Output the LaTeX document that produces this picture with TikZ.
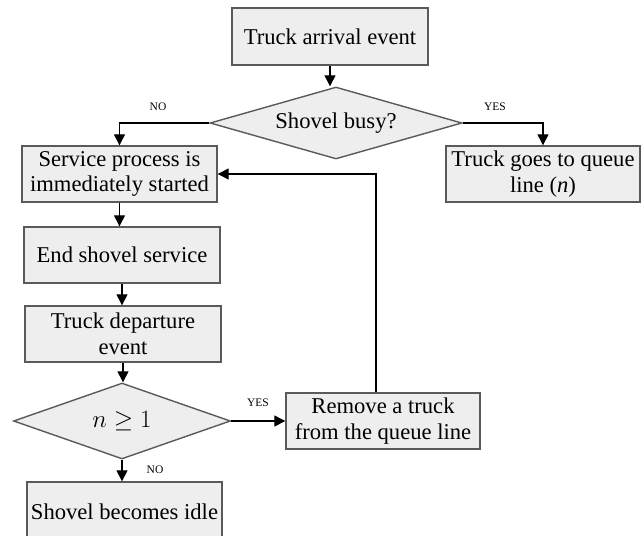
\documentclass[tikz,border=0pt]{standalone}
\usepackage{fontspec}
\setmainfont{Liberation Serif}
\usetikzlibrary{shapes.geometric,arrows.meta,calc}
\definecolor{boxfill}{HTML}{EEEEEE}
\definecolor{boxline}{HTML}{5A5A5A}
\begin{document}
\begin{tikzpicture}[x=1pt,y=-1pt,
  procbox/.style={draw=boxline,line width=1.4pt,fill=boxfill,rectangle,inner sep=0pt,
    align=center,font=\fontsize{22.6}{25.5}\selectfont},
  decbox/.style={draw=boxline,line width=1.4pt,fill=boxfill,diamond,inner sep=0pt,
    align=center,font=\fontsize{22.6}{25.5}\selectfont},
  conn/.style={draw=black,line width=1.3pt,-{Triangle[length=11pt,width=11pt]}},
  lab/.style={font=\fontsize{11.5}{13}\selectfont,inner sep=0pt}]
\useasboundingbox (0,0) rectangle (644,535);
\node[procbox,minimum width=196pt,minimum height=57pt] (arr) at (330,36.5) {Truck arrival event};
\node[decbox,minimum width=252pt,minimum height=72pt,aspect=3.5] (busy) at (336,123) {Shovel busy?};
\node[procbox,minimum width=195pt,minimum height=56pt] (serv) at (119.5,174) {Service process is\\immediately started};
\node[procbox,minimum width=194pt,minimum height=56pt] (queue) at (543,174) {Truck goes to queue\\line (\textit{n})};
\node[procbox,minimum width=196pt,minimum height=56pt] (endsv) at (122,255) {End shovel service};
\node[procbox,minimum width=196pt,minimum height=56pt] (dep) at (123,334) {Truck departure\\event};
\node[decbox,minimum width=217pt,minimum height=76pt,aspect=2.85,font=\fontsize{26}{28}\selectfont] (ncond) at (122,421) {$n \geq 1$};
\node[procbox,minimum width=194pt,minimum height=56pt] (remove) at (383,421) {Remove a truck\\from the queue line};
\node[procbox,minimum width=195pt,minimum height=60pt] (idle) at (124.5,512) {Shovel becomes idle};

\node[lab] (lno1) at (158,107) {NO};
\node[lab] (lyes1) at (495,107) {YES};
\node[lab] (lyes2) at (258,403) {YES};
\node[lab] (lno2) at (155,470) {NO};

\draw[conn] (arr.south) -- (arr.south |- busy.north);
\draw[conn] (busy.west) -| (serv.north);
\draw[conn] (busy.east) -| (queue.north);
\draw[conn] (serv.south) -- (serv.south |- endsv.north);
\draw[conn] (endsv.south) -- (endsv.south |- dep.north);
\draw[conn] (dep.south) -- (dep.south |- ncond.north);
\draw[conn] (ncond.south) -- (ncond.south |- idle.north);
\draw[conn] (ncond.east) -- (remove.west);
\coordinate (loopbot) at ($(remove.north)+(-7,0)$);
\draw[conn] (loopbot) |- (serv.east);
\end{tikzpicture}
\end{document}
